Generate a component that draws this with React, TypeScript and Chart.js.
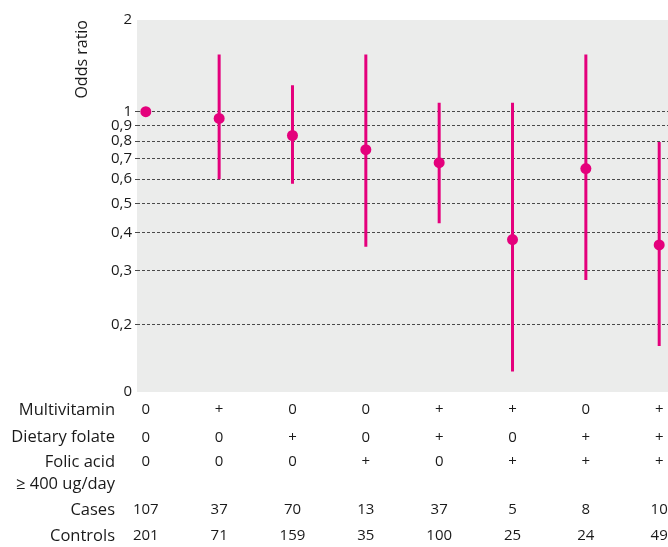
import React, { useEffect, useRef } from "react";
import { Chart, registerables } from "chart.js";

Chart.register(...registerables);

// ---- Data ----
const categoryIndex = [0, 1, 2, 3, 4, 5, 6, 7];
const oddsRatio = [1.0, 0.95, 0.835, 0.75, 0.68, 0.38, 0.65, 0.365];
const ciLower = [null, 0.6, 0.58, 0.36, 0.43, 0.14, 0.28, 0.17];
const ciUpper = [null, 1.54, 1.22, 1.54, 1.07, 1.07, 1.54, 0.795];

const multivitamin = ["0", "+", "0", "0", "+", "+", "0", "+"];
const dietaryFolate = ["0", "0", "+", "0", "+", "0", "+", "+"];
const folicAcid = ["0", "0", "0", "+", "0", "+", "+", "+"];
const cases = ["107", "37", "70", "13", "37", "5", "8", "10"];
const controls = ["201", "71", "159", "35", "100", "25", "24", "49"];

const yMin = 0.12;
const yMax = 2;
const yTickValues = [0.12, 0.2, 0.3, 0.4, 0.5, 0.6, 0.7, 0.8, 0.9, 1, 2];
const yTickLabels = ["0", "0,2", "0,3", "0,4", "0,5", "0,6", "0,7", "0,8", "0,9", "1", "2"];

const rowLabels = ["Multivitamin", "Dietary folate", "Folic acid", "\u2265 400 ug/day", "Cases", "Controls"];
const rowValues = [multivitamin, dietaryFolate, folicAcid, null, cases, controls];

const MAGENTA = "#e4007c";
const TEXT = "#1a1a1a";
const FONT_FAMILY = "'Open Sans', 'Noto Sans', sans-serif";

const bgPlugin = {
  id: "plotBg",
  beforeDraw(chart: any) {
    const { ctx, chartArea } = chart;
    ctx.save();
    ctx.fillStyle = "#ebeceb";
    ctx.fillRect(chartArea.left, chartArea.top, chartArea.right - chartArea.left, chartArea.bottom - chartArea.top);
    ctx.restore();
  },
};

const tablePlugin = {
  id: "bottomTable",
  afterDraw(chart: any) {
    const { ctx } = chart;
    const xScale = chart.scales.x;
    const rowY = [410, 437, 462, 484, 510, 536];
    ctx.save();
    ctx.fillStyle = TEXT;
    ctx.textBaseline = "middle";
    rowLabels.forEach((label, r) => {
      ctx.font = `16.5px ${FONT_FAMILY}`;
      ctx.textAlign = "right";
      ctx.fillText(label, 115, rowY[r]);
      const vals = rowValues[r];
      if (vals) {
        ctx.font = `15px ${FONT_FAMILY}`;
        ctx.textAlign = "center";
        vals.forEach((v, i) => {
          const x = xScale.getPixelForValue(categoryIndex[i]);
          ctx.fillText(v, x, rowY[r] + (r === 1 ? 1 : 0));
        });
      }
    });
    ctx.restore();
  },
};

export default function App() {
  const canvasRef = useRef<HTMLCanvasElement | null>(null);

  useEffect(() => {
    if (!canvasRef.current) return;
    const ciData: any[] = [];
    categoryIndex.forEach((x, i) => {
      if (ciLower[i] != null && ciUpper[i] != null) {
        ciData.push({ x, y: ciLower[i] });
        ciData.push({ x, y: ciUpper[i] });
        ciData.push({ x, y: null });
      }
    });
    const chart = new Chart(canvasRef.current, {
      type: "scatter",
      data: {
        datasets: [
          {
            label: "Odds ratio",
            data: categoryIndex.map((x, i) => ({ x, y: oddsRatio[i] })),
            backgroundColor: MAGENTA,
            borderColor: MAGENTA,
            pointRadius: 5.5,
            pointHoverRadius: 5.5,
            borderWidth: 0,
            order: 0,
          },
          {
            label: "CI",
            data: ciData,
            showLine: true,
            spanGaps: false,
            borderColor: MAGENTA,
            borderWidth: 3,
            pointRadius: 0,
            borderCapStyle: "butt",
            order: 1,
          } as any,
        ],
      },
      options: {
        animation: false,
        responsive: false,
        maintainAspectRatio: false,
        layout: { autoPadding: false, padding: { top: 20, bottom: 155, left: 0, right: 0 } },
        plugins: {
          legend: { display: false },
          tooltip: { enabled: false },
        },
        scales: {
          x: {
            type: "linear",
            min: -0.12,
            max: 7.12,
            display: false,
          },
          y: {
            type: "logarithmic",
            min: yMin,
            max: yMax,
            afterBuildTicks: (scale: any) => {
              scale.ticks = yTickValues.map((v) => ({ value: v }));
            },
            afterFit: (scale: any) => {
              scale.width = 137;
            },
            ticks: {
              autoSkip: false,
              padding: 3,
              color: TEXT,
              font: { family: FONT_FAMILY, size: 15 },
              callback: (value: any) => {
                const idx = yTickValues.indexOf(Number(value));
                return idx >= 0 ? yTickLabels[idx] : "";
              },
            },
            grid: {
              color: (ctx: any) => {
                const v = ctx.tick ? ctx.tick.value : null;
                return v === yMin || v === yMax ? "rgba(0,0,0,0)" : "#4a4a4a";
              },
              lineWidth: 1,
              drawTicks: true,
              tickLength: 2,
            },
            border: { display: false, dash: [3, 2] },
            title: {
              display: true,
              text: "Odds ratio",
              align: "end",
              color: TEXT,
              font: { family: FONT_FAMILY, size: 16 },
              padding: { top: 73, bottom: 0 },
            },
          },
        },
      },
      plugins: [bgPlugin, tablePlugin],
    } as any);
    return () => chart.destroy();
  }, []);

  return (
    <div style={{ position: "absolute", left: 0, top: 0, width: 668, height: 547, background: "#fff" }}>
      <canvas ref={canvasRef} width={668} height={547} style={{ display: "block" }} />
    </div>
  );
}
